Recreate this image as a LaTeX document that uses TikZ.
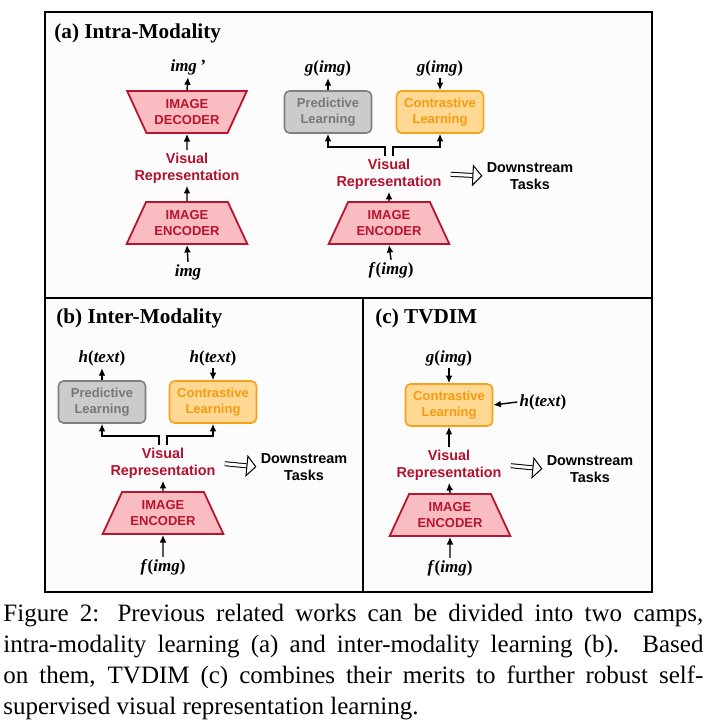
\documentclass[tikz,border=0pt]{standalone}
\usepackage{fontspec}
\setmainfont{Liberation Serif}
\setsansfont{Liberation Sans}
\usepackage{tikz}
\usetikzlibrary{arrows, arrows.meta, shapes.geometric}

\definecolor{encfill}{HTML}{F9BCC0}
\definecolor{encline}{HTML}{B8152F}
\definecolor{reprtext}{HTML}{B3112E}
\definecolor{predfill}{HTML}{CBCBCB}
\definecolor{predline}{HTML}{7F7F7F}
\definecolor{predtext}{HTML}{777777}
\definecolor{confill}{HTML}{FFD993}
\definecolor{conline}{HTML}{F7A11A}
\definecolor{context}{HTML}{F59B10}
\definecolor{panelbg}{HTML}{FCFCFC}

\begin{document}
\begin{tikzpicture}[x=0.5pt, y=-0.5pt,
    enc/.style={trapezium, trapezium stretches=true, trapezium left angle=61,
      trapezium right angle=61, minimum width=60.5pt, minimum height=21pt,
      inner sep=1pt, draw=encline, fill=encfill, line width=0.9pt, text=encline,
      font=\sffamily\bfseries\fontsize{6.5}{8.2}\selectfont, align=center},
    dec/.style={enc, shape border rotate=180, minimum width=60pt},
    pred/.style={draw=predline, fill=predfill, rounded corners=2.5pt, line width=0.8pt,
      minimum width=43.5pt, minimum height=21pt, inner sep=1pt, text=predtext,
      font=\sffamily\bfseries\fontsize{6.5}{8.3}\selectfont, align=center},
    con/.style={pred, draw=conline, fill=confill, text=context},
    repr/.style={text=reprtext, font=\sffamily\bfseries\fontsize{7.2}{8.7}\selectfont,
      align=center, inner sep=1pt},
    task/.style={font=\sffamily\bfseries\fontsize{7.2}{8.8}\selectfont, align=center, inner sep=1pt},
    lab/.style={font=\bfseries\fontsize{8.5}{10}\selectfont, inner sep=1pt},
    ttl/.style={font=\bfseries\fontsize{10.6}{12}\selectfont, anchor=west, inner sep=0pt},
    arr/.style={-{Latex[length=3.8pt, width=3.4pt]}, line width=0.7pt},
    dbl/.style={double, double distance=1.5pt, line width=0.5pt,
      -{Triangle[open, length=5pt, width=11pt]}, shorten <=3.5pt, shorten >=1pt}]

      \useasboundingbox (0,0) rectangle (705,722);
      \fill[white] (0,0) rectangle (705,722);
      \filldraw[fill=panelbg, line width=1.2pt] (45,12) rectangle (652,592);
      \draw[line width=1.2pt] (45,298) -- (652,298);
      \draw[line width=1.2pt] (363,298) -- (363,592);

      \node[ttl] (ta) at (54,33) {(a) Intra-Modality};
      \node[lab] (imgp) at (188,67) {\textit{img}\,\textit{'}};
      \node[dec] (deca) at (187,112) {IMAGE\\DECODER};
      \node[repr] (ra1) at (187,168) {Visual\\Representation};
      \node[enc] (ena1) at (187,223) {IMAGE\\ENCODER};
      \node[lab] (img) at (188,272) {\textit{img}};

      \draw[arr] (deca.north) -- (imgp.south);
      \draw[arr] (ra1.north) -- (deca.south);
      \draw[arr] (ena1.north) -- (ra1.south);
      \draw[arr] (img.north) -- (ena1.south);

      \node[pred] (pa) at (328,112) {Predictive\\Learning};
      \node[con] (ca) at (440,112) {Contrastive\\Learning};
      \node[lab] (ga1) at (328,68) {\textit{g}(\textit{img})};
      \node[lab] (ga2) at (440,68) {\textit{g}(\textit{img})};
      \node[repr] (ra2) at (389,174) {Visual\\Representation};
      \node[task] (da) at (530,176) {Downstream\\Tasks};
      \node[enc] (ena2) at (389,223) {IMAGE\\ENCODER};
      \node[lab] (fa) at (391,270) {\textit{f\/}(\textit{img})};

      \draw[arr] (pa.north) -- (ga1.south);
      \draw[arr] (ga2.south) -- (ca.north);
      \draw[arr] ([xshift=-2pt]ra2.north) -- ++(0,-9) -| (pa.south);
      \draw[arr] ([xshift=2pt]ra2.north) -- ++(0,-9) -| (ca.south);
      \draw[dbl] (ra2.east) -- (da.west);
      \draw[arr] (ena2.north) -- (ra2.south);
      \draw[arr] (fa.north) -- (ena2.south);

      \node[ttl] (tb) at (56,318) {(b) Inter-Modality};
      \node[lab] (hb1) at (102,358) {\textit{h}(\textit{text})};
      \node[lab] (hb2) at (213,358) {\textit{h}(\textit{text})};
      \node[pred] (pb) at (102,402) {Predictive\\Learning};
      \node[con] (cb) at (213,402) {Contrastive\\Learning};
      \node[repr] (rb) at (163,463) {Visual\\Representation};
      \node[task] (db) at (304,467) {Downstream\\Tasks};
      \node[enc] (enb) at (163,513) {IMAGE\\ENCODER};
      \node[lab] (fb) at (163,567) {\textit{f\/}(\textit{img})};

      \draw[arr] (pb.north) -- (hb1.south);
      \draw[arr] (hb2.south) -- (cb.north);
      \draw[arr] ([xshift=-2pt]rb.north) -- ++(0,-9) -| (pb.south);
      \draw[arr] ([xshift=2pt]rb.north) -- ++(0,-9) -| (cb.south);
      \draw[dbl] (rb.east) -- (db.west);
      \draw[arr] (enb.north) -- (rb.south);
      \draw[arr] (fb.north) -- (enb.south);

      \node[ttl] (tc) at (375,318) {(c) TVDIM};
      \node[lab] (gc) at (449,358) {\textit{g}(\textit{img})};
      \node[con] (cc) at (449,405) {Contrastive\\Learning};
      \node[lab] (hc) at (543,402) {\textit{h}(\textit{text})};
      \node[repr] (rc) at (449,465) {Visual\\Representation};
      \node[task] (dc) at (590,469) {Downstream\\Tasks};
      \node[enc] (enC) at (450,515) {IMAGE\\ENCODER};
      \node[lab] (fc) at (450,568) {\textit{f\/}(\textit{img})};

      \draw[arr] (gc.south) -- (cc.north);
      \draw[arr] (hc.west) -- (cc.east);
      \draw[arr] (rc.north) -- (cc.south);
      \draw[dbl] (rc.east) -- (dc.west);
      \draw[arr] (enC.north) -- (rc.south);
      \draw[arr] (fc.north) -- (enC.south);

      \node[anchor=north west, text width=350pt, align=justify, inner sep=0pt,
        font=\fontsize{12.5}{15.5}\selectfont] (cap) at (3,604)
        {Figure 2: Previous related works can be divided into two camps,\linebreak
        intra-modality learning (a) and inter-modality learning (b). Based\linebreak
        on them, TVDIM (c) combines their merits to further robust self-\linebreak
        supervised visual representation learning.};

    \end{tikzpicture}
\end{document}
